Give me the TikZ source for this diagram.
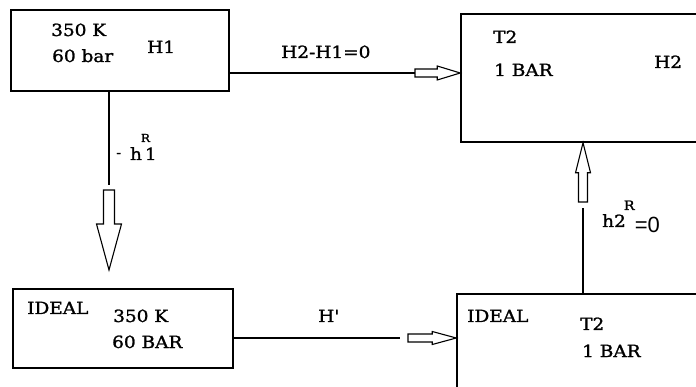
\documentclass[tikz,border=0pt]{standalone}
\usepackage{fontspec}
\setmainfont{DejaVu Serif}[FakeStretch=1.1, FakeBold=1.4]
\newfontfamily\zerofont{Liberation Sans}
\usepackage{tikz}
\usetikzlibrary{calc}

\begin{document}
\begin{tikzpicture}[x=1pt, y=-1pt,
			box/.style={rectangle, draw=black, line width=1.5pt, fill=white, inner sep=0pt},
			txt/.style={inner sep=0pt, anchor=base west, font=\fontsize{16.8}{17}\selectfont},
			conn/.style={line width=1.3pt},
			hollow/.style n args={3}{draw, line width=1.1pt, to path={
					($(\tikztostart)!#1!90:(\tikztotarget)$)
					-- ($(\tikztotarget)!#3!(\tikztostart)!#1!-90:(\tikztostart)$)
					-- ($(\tikztotarget)!#3!(\tikztostart)!#2!-90:(\tikztostart)$)
					-- (\tikztotarget)
					-- ($(\tikztotarget)!#3!(\tikztostart)!#2!90:(\tikztostart)$)
					-- ($(\tikztotarget)!#3!(\tikztostart)!#1!90:(\tikztostart)$)
					-- ($(\tikztostart)!#1!-90:(\tikztotarget)$) -- cycle}}
			]
			\useasboundingbox (0,0) rectangle (696,387);
			\clip (0,0) rectangle (696,387);
			
			\node[box, minimum width=218pt, minimum height=81pt]  (real1)  at (120,50.5)   {};
			\node[box, minimum width=269pt, minimum height=128pt] (real2)  at (595.5,78)   {};
			\node[box, minimum width=220pt, minimum height=79pt]  (ideal1) at (123,328.5)  {};
			\node[box, minimum width=273pt, minimum height=126pt] (ideal2) at (593.5,357)  {};
			
			\node[txt] (r1t)   at (51,36)   {350 K};
			\node[txt] (r1p)   at (52,62)   {60 bar};
			\node[txt] (r1h)   at (147,53)  {H1};
			\node[txt] (r2t)   at (493,43)  {T2};
			\node[txt] (r2p)   at (494,76)  {1 BAR};
			\node[txt] (r2h)   at (654,68)  {H2};
			\node[txt] (i1n)   at (27,314)  {IDEAL};
			\node[txt] (i1t)   at (113,322) {350 K};
			\node[txt] (i1p)   at (112,348) {60 BAR};
			\node[txt] (i2n)   at (467,322) {IDEAL};
			\node[txt] (i2t)   at (580,330) {T2};
			\node[txt] (i2p)   at (582,357) {1 BAR};
			
			\node[txt] (dh)    at (281,58)  {H2-H1=0};
			\node[txt] (dhid)  at (318,322) {H\textquotesingle};
			\node[txt] (hres1) at (116,160) {\raisebox{3pt}{\fontsize{13}{13}\selectfont -}\hspace{9pt}h\rlap{\hspace{-1pt}\raisebox{18pt}{\fontsize{11}{11}\selectfont R}}\hspace{3pt}1};
			\node[txt] (hres2) at (602,227) {h2\rlap{\hspace{-2pt}\raisebox{17pt}{\fontsize{13}{13}\selectfont R}}\hspace{9pt}\raisebox{-6pt}{\zerofont\fontsize{22}{22}\selectfont =0}};
			
			\coordinate (c1)  at (415,73);
			\coordinate (c2)  at (109,185);
			\coordinate (c2a) at (109,190);
			\coordinate (t2)  at (109,270);
			\coordinate (c3)  at (400,338);
			\coordinate (c3a) at (408,338);
			\coordinate (c4)  at (583,208);
			\coordinate (c4a) at (583,202);
			\coordinate (t1)  at (c1 -| real2.west);
			\coordinate (t3)  at (c3 -| ideal2.west);
			\coordinate (t4)  at (c4 |- real2.south);
			
			\draw[conn] (c1 -| real1.east)    -- (c1);
			\draw[conn] (c2 |- real1.south)   -- (c2);
			\draw[conn] (c3 -| ideal1.east)   -- (c3);
			\draw[conn] (c4 |- ideal2.north)  -- (c4);
			
			\draw[hollow={4pt}{7pt}{23pt}]     (c1)  to (t1);
			\draw[hollow={5.5pt}{12.5pt}{46pt}] (c2a) to (t2);
			\draw[hollow={4pt}{6.5pt}{24pt}]   (c3a) to (t3);
			\draw[hollow={4.5pt}{7.5pt}{30pt}] (c4a) to (t4);
		\end{tikzpicture}
\end{document}
